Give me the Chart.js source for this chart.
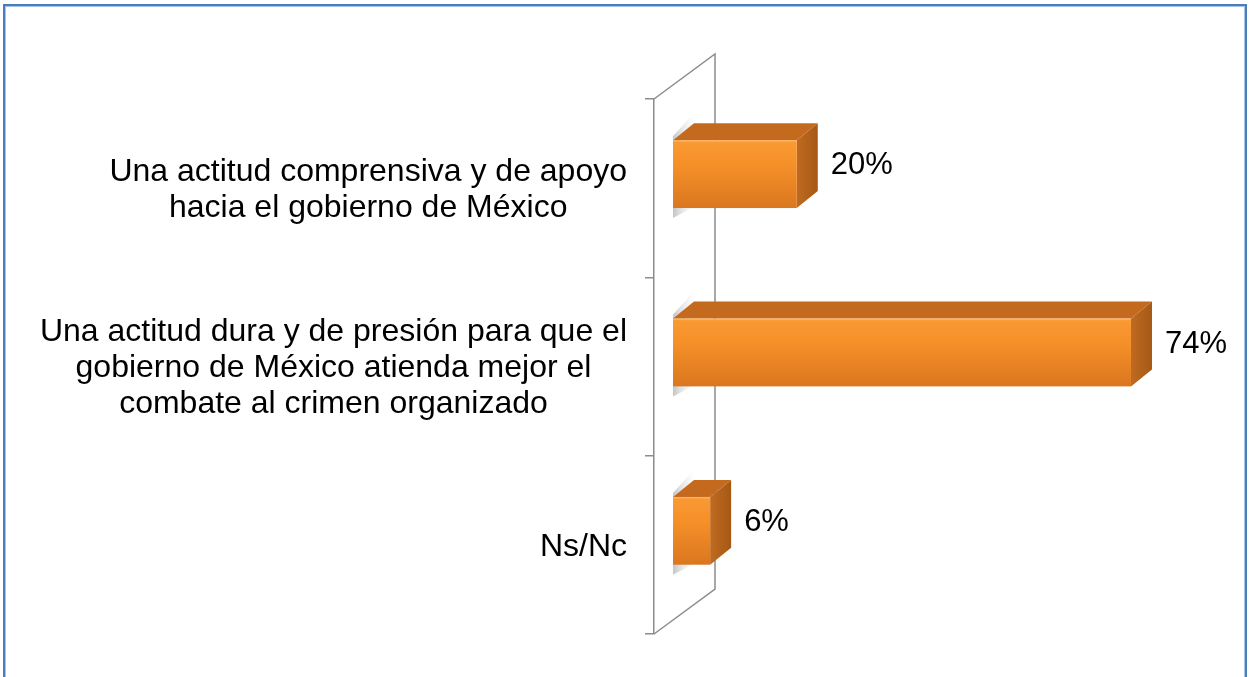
<!DOCTYPE html>
<html lang="es">
<head>
  <meta charset="UTF-8">
  <title>Actitud hacia el gobierno de México</title>
  <script src="https://cdn.jsdelivr.net/npm/chart.js@4.4.4/dist/chart.umd.min.js"></script>
  <style>
    html, body {
      margin: 0;
      padding: 0;
      background: #fff;
      overflow: hidden;
    }
    .frame {
      position: absolute;
      left: 3px;
      top: 4px;
      width: 1240px;
      height: 720px;
      border: 2px solid #4a7ebb;
      box-shadow: inset 0 0 0 1px #a9c3e6;
    }
    #chart {
      position: absolute;
      left: 0;
      top: 0;
    }
  </style>
</head>
<body>
  <div class="frame"></div>
  <canvas id="chart" width="1249" height="677"></canvas>
  <script>
    // data
    const categories = [
      ['Una actitud comprensiva y de apoyo', 'hacia el gobierno de México'],
      ['Una actitud dura y de presión para que el', 'gobierno de México atienda mejor el', 'combate al crimen organizado'],
      ['Ns/Nc']
    ];
    const values = [20, 74, 6];
    const valueLabels = ['20%', '74%', '6%'];

    const FONT = "'Liberation Sans', Arial, sans-serif";
    const GRAY = '#8c8c8c';

    // fake 3D: wall behind the axis, bars drawn as boxes
    const wall = { dx: 61, dy: 45 };
    const box = { offX: 19, offY: -14, depthX: 21, depthY: 17 };

    const threeD = {
      id: 'threeD',
      beforeDatasetsDraw(chart) {
        const { ctx, chartArea: a } = chart;
        ctx.save();
        ctx.strokeStyle = GRAY;
        ctx.lineWidth = 1.5;
        ctx.beginPath();
        ctx.moveTo(a.left, a.top);
        ctx.lineTo(a.left + wall.dx, a.top - wall.dy);
        ctx.lineTo(a.left + wall.dx, a.bottom - wall.dy);
        ctx.lineTo(a.left, a.bottom);
        ctx.stroke();
        ctx.restore();
      },
      afterDatasetsDraw(chart) {
        const { ctx } = chart;
        const meta = chart.getDatasetMeta(0);
        ctx.save();
        meta.data.forEach((bar, i) => {
          const h = bar.height;
          const x0 = bar.base + box.offX;
          const x1 = bar.x + box.offX;
          const y0 = bar.y - h / 2 + box.offY;
          const y1 = y0 + h;
          const dx = box.depthX, dy = box.depthY;

          // soft shadow on the wall at the bar's left end
          const sg = ctx.createLinearGradient(x0, 0, x0 + dx, 0);
          sg.addColorStop(0, 'rgba(140,140,140,0.5)');
          sg.addColorStop(1, 'rgba(200,200,200,0.0)');
          ctx.fillStyle = sg;
          ctx.beginPath();
          ctx.moveTo(x0, y0 - 4);
          ctx.lineTo(x0 + dx, y0 - dy - 10);
          ctx.lineTo(x0 + dx, y1 - dy + 16);
          ctx.lineTo(x0, y1 + 10);
          ctx.closePath();
          ctx.fill();

          // top face
          ctx.fillStyle = '#c46a1f';
          ctx.beginPath();
          ctx.moveTo(x0, y0);
          ctx.lineTo(x0 + dx, y0 - dy);
          ctx.lineTo(x1 + dx, y0 - dy);
          ctx.lineTo(x1, y0);
          ctx.closePath();
          ctx.fill();

          // side face
          const sd = ctx.createLinearGradient(x1, 0, x1 + dx, 0);
          sd.addColorStop(0, '#c06a21');
          sd.addColorStop(1, '#a55915');
          ctx.fillStyle = sd;
          ctx.beginPath();
          ctx.moveTo(x1, y0);
          ctx.lineTo(x1 + dx, y0 - dy);
          ctx.lineTo(x1 + dx, y1 - dy);
          ctx.lineTo(x1, y1);
          ctx.closePath();
          ctx.fill();

          // front face
          const fg = ctx.createLinearGradient(0, y0, 0, y1);
          fg.addColorStop(0, '#fa9a33');
          fg.addColorStop(0.35, '#f69029');
          fg.addColorStop(1, '#da771f');
          ctx.fillStyle = fg;
          ctx.fillRect(x0, y0, x1 - x0, h);
          ctx.fillStyle = 'rgba(255,190,120,0.6)';
          ctx.fillRect(x0, y0, x1 - x0, 1.5);

          // value label
          ctx.fillStyle = '#000';
          ctx.font = '31px ' + FONT;
          ctx.textAlign = 'left';
          ctx.textBaseline = 'middle';
          ctx.fillText(valueLabels[i], x1 + dx + 13, (y0 - dy + y1) / 2);
        });
        ctx.restore();
      },
      // category labels: block right-aligned, lines centred inside the block
      afterDraw(chart) {
        const { ctx } = chart;
        const yScale = chart.scales.y;
        const right = yScale.right - 9 - 18;
        const lh = 36;
        ctx.save();
        ctx.font = '32px ' + FONT;
        ctx.fillStyle = '#000';
        ctx.textAlign = 'center';
        ctx.textBaseline = 'middle';
        categories.forEach((lines, i) => {
          const y = yScale.getPixelForTick(i) + 2;
          const w = Math.max(...lines.map(l => ctx.measureText(l).width));
          const cx = right - w / 2;
          lines.forEach((l, j) => {
            ctx.fillText(l, cx, y + (j - (lines.length - 1) / 2) * lh);
          });
        });
        ctx.restore();
      }
    };

    new Chart(document.getElementById('chart'), {
      type: 'bar',
      data: {
        labels: categories,
        datasets: [{
          data: values,
          backgroundColor: 'rgba(0,0,0,0)',
          borderWidth: 0,
          categoryPercentage: 1,
          barPercentage: 0.38
        }]
      },
      options: {
        indexAxis: 'y',
        responsive: false,
        animation: false,
        devicePixelRatio: 1,
        layout: { padding: { left: 0, top: 99, right: 38, bottom: 43 } },
        plugins: {
          legend: { display: false },
          tooltip: { enabled: false }
        },
        scales: {
          x: {
            display: false,
            min: 0,
            max: 90
          },
          y: {
            afterFit(scale) {
              scale.width = 654;
              scale.paddingTop = 0;
              scale.paddingBottom = 0;
            },
            grid: {
              display: true,
              drawOnChartArea: false,
              drawTicks: true,
              tickLength: 9,
              color: GRAY,
              lineWidth: 1.5,
              offset: true
            },
            border: { display: true, color: GRAY, width: 1.5 },
            ticks: { display: false }
          }
        }
      },
      plugins: [threeD]
    });
  </script>
</body>
</html>
